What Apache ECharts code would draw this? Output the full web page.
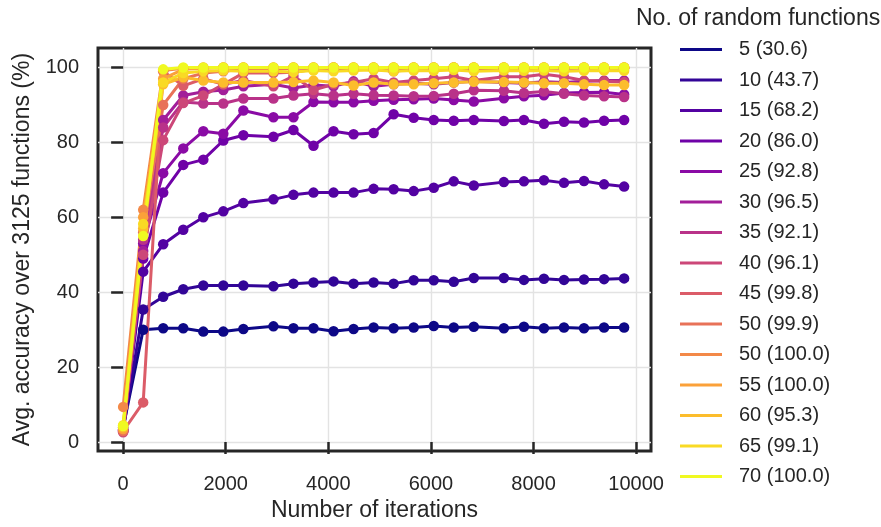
<!DOCTYPE html>
<html>
<head>
<meta charset="utf-8">
<script src="https://cdn.jsdelivr.net/npm/echarts@6/dist/echarts.min.js"></script>
<style>html,body{margin:0;padding:0;background:#fff;}#c{width:881px;height:527px;}</style>
</head>
<body>
<div id="c"></div>
<script>
// ---- data ----
const xIter = [0, 391, 781, 1172, 1563, 1953, 2344, 2930, 3320, 3711, 4102, 4492, 4883, 5273, 5664, 6055, 6445, 6836, 7422, 7813, 8203, 8594, 8984, 9375, 9766];
const seriesNames = ['5 (30.6)', '10 (43.7)', '15 (68.2)', '20 (86.0)', '25 (92.8)', '30 (96.5)', '35 (92.1)', '40 (96.1)', '45 (99.8)', '50 (99.9)', '50 (100.0)', '55 (100.0)', '60 (95.3)', '65 (99.1)', '70 (100.0)'];
const acc5   = [3.9, 30.0, 30.4, 30.4, 29.5, 29.5, 30.2, 30.9, 30.4, 30.4, 29.6, 30.2, 30.6, 30.4, 30.6, 31.0, 30.6, 30.8, 30.4, 30.8, 30.4, 30.6, 30.4, 30.6, 30.6];
const acc10  = [3.2, 35.4, 38.8, 40.8, 41.8, 41.8, 41.8, 41.6, 42.3, 42.6, 42.9, 42.3, 42.6, 42.3, 43.2, 43.2, 42.8, 43.8, 43.8, 43.3, 43.6, 43.3, 43.4, 43.5, 43.7];
const acc15  = [3.0, 45.5, 52.8, 56.7, 60.0, 61.6, 63.8, 64.8, 66.0, 66.6, 66.6, 66.6, 67.6, 67.5, 67.0, 67.9, 69.6, 68.5, 69.4, 69.6, 69.9, 69.2, 69.7, 68.8, 68.2];
const acc20  = [3.4, 49.0, 66.6, 74.0, 75.4, 80.5, 81.9, 81.5, 83.3, 79.1, 83.0, 82.2, 82.5, 87.5, 86.6, 86.0, 85.8, 86.0, 85.7, 86.0, 85.0, 85.5, 85.3, 85.8, 86.0];
const acc25  = [3.1, 53.0, 71.8, 78.4, 83.0, 82.3, 88.5, 86.7, 86.7, 90.8, 90.7, 90.7, 91.1, 91.4, 91.5, 91.7, 91.3, 90.9, 91.8, 92.3, 92.6, 93.2, 93.3, 93.4, 92.8];
const acc30  = [2.9, 51.0, 86.0, 92.5, 93.5, 94.0, 95.0, 95.5, 94.5, 95.3, 95.0, 96.3, 95.0, 95.5, 95.8, 95.5, 96.0, 96.3, 96.0, 95.8, 96.2, 96.0, 96.3, 96.5, 96.5];
const acc35  = [3.0, 54.0, 84.0, 90.8, 90.4, 90.4, 91.7, 91.7, 92.5, 93.0, 92.5, 93.0, 92.6, 92.5, 92.3, 92.4, 93.0, 93.9, 93.8, 93.2, 93.6, 93.0, 92.5, 92.3, 92.1];
const acc40  = [2.6, 50.0, 80.6, 90.5, 92.5, 95.5, 96.5, 95.0, 97.7, 94.0, 95.5, 96.0, 97.0, 96.0, 96.5, 97.0, 97.5, 96.5, 97.5, 97.5, 98.2, 97.5, 96.5, 96.3, 96.1];
const acc45  = [2.9, 10.6, 99.0, 95.1, 97.0, 95.5, 98.5, 98.5, 98.7, 99.5, 99.5, 99.5, 99.6, 99.0, 99.5, 99.8, 99.7, 99.5, 99.8, 99.8, 99.7, 99.8, 99.8, 99.8, 99.8];
const acc50a = [3.0, 56.0, 90.0, 97.0, 98.5, 99.0, 99.5, 99.5, 99.8, 99.8, 100.0, 99.8, 99.9, 99.8, 99.9, 99.9, 100.0, 99.9, 99.9, 99.9, 99.9, 99.9, 99.9, 99.9, 99.9];
const acc50b = [9.4, 62.0, 99.2, 99.8, 100.0, 100.0, 100.0, 100.0, 100.0, 100.0, 100.0, 100.0, 100.0, 100.0, 100.0, 100.0, 100.0, 100.0, 100.0, 100.0, 100.0, 100.0, 100.0, 100.0, 100.0];
const acc55  = [3.5, 60.0, 97.0, 99.5, 99.8, 100.0, 100.0, 99.9, 100.0, 100.0, 100.0, 100.0, 100.0, 100.0, 100.0, 100.0, 100.0, 100.0, 100.0, 100.0, 100.0, 100.0, 100.0, 100.0, 100.0];
const acc60  = [4.0, 57.0, 95.5, 97.4, 96.5, 96.0, 96.0, 96.0, 96.1, 96.5, 96.0, 95.2, 96.0, 95.5, 95.5, 95.8, 96.0, 96.2, 96.1, 96.0, 95.8, 95.8, 95.5, 95.3, 95.3];
const acc65  = [4.5, 58.2, 96.0, 98.5, 99.0, 99.2, 99.0, 99.0, 98.8, 99.2, 99.0, 99.2, 99.3, 99.0, 99.2, 99.1, 99.3, 99.0, 99.2, 99.1, 99.2, 99.0, 99.1, 99.2, 99.1];
const acc70  = [4.3, 55.0, 99.5, 100.0, 100.0, 100.0, 100.0, 100.0, 100.0, 100.0, 100.0, 100.0, 100.0, 100.0, 100.0, 100.0, 100.0, 100.0, 100.0, 100.0, 100.0, 100.0, 100.0, 100.0, 100.0];
const xTicks = [0, 2000, 4000, 6000, 8000, 10000];
const yTicks = [0, 20, 40, 60, 80, 100];
const xTitle = 'Number of iterations';
const yTitle = 'Avg. accuracy over 3125 functions (%)';
const legendTitle = 'No. of random functions';

// ---- style ----
const allAcc = [acc5, acc10, acc15, acc20, acc25, acc30, acc35, acc40, acc45, acc50a, acc50b, acc55, acc60, acc65, acc70];
const colors = ['#0d0887', '#320597', '#5302a2', '#6f02a7', '#8a0ba5', '#a21e99', '#b93289', '#cc4778', '#db5c68', '#e87258', '#f38948', '#fba139', '#fcbd2c', '#f9da24', '#f0f921'];
const FONT = '"Liberation Sans", Arial, sans-serif';
const TXT = '#262626';

const series = allAcc.map((vals, i) => ({
  name: seriesNames[i],
  type: 'line',
  data: xIter.map((x, j) => [x, vals[j]]),
  symbol: 'circle',
  symbolSize: 10.5,
  showSymbol: true,
  lineStyle: { width: 3, color: colors[i] },
  itemStyle: { color: colors[i], borderWidth: 0 },
  emphasis: { disabled: true },
  z: 3
}));

const chart = echarts.init(document.getElementById('c'), null, { renderer: 'canvas' });
chart.setOption({
  animation: false,
  backgroundColor: '#ffffff',
  color: colors,
  textStyle: { fontFamily: FONT },
  title: {
    text: legendTitle, left: 636, top: 7, padding: 0,
    textStyle: { fontSize: 23, fontWeight: 'normal', color: TXT, fontFamily: FONT }
  },
  legend: {
    orient: 'vertical', left: 680, top: 39, padding: 0,
    icon: 'rect', itemWidth: 42, itemHeight: 3, itemGap: 9.5,
    selectedMode: false,
    textStyle: { fontSize: 20, lineHeight: 21, color: TXT, fontFamily: FONT, padding: [0, 0, 0, 12] },
    data: seriesNames
  },
  grid: {
    left: 98, right: 230, top: 48, bottom: 70,
    show: true, borderColor: '#262626', borderWidth: 3, backgroundColor: 'rgba(0,0,0,0)'
  },
  xAxis: {
    type: 'value', min: -490, max: 10290,
    name: xTitle, nameLocation: 'middle', nameGap: 47,
    nameTextStyle: { fontSize: 23, color: TXT, fontFamily: FONT },
    axisLine: { show: false },
    axisTick: { show: true, length: 12, customValues: xTicks, lineStyle: { width: 2.5, color: '#262626' } },
    axisLabel: { customValues: xTicks, fontSize: 20, color: TXT, margin: 23, formatter: v => String(v) },
    splitLine: { show: true, lineStyle: { color: '#e3e3e3', width: 1.4 } }
  },
  yAxis: {
    type: 'value', min: -2.4, max: 105.2,
    name: yTitle, nameLocation: 'middle', nameGap: 64, nameRotate: 90,
    nameTextStyle: { fontSize: 23, color: TXT, fontFamily: FONT },
    axisLine: { show: false },
    axisTick: { show: true, length: 12, customValues: yTicks, lineStyle: { width: 2.5, color: '#262626' } },
    axisLabel: { customValues: yTicks, fontSize: 20, color: TXT, margin: 19, formatter: v => String(v) },
    splitLine: { show: true, lineStyle: { color: '#e3e3e3', width: 1.4 } }
  },
  series: series
});
</script>
</body>
</html>
